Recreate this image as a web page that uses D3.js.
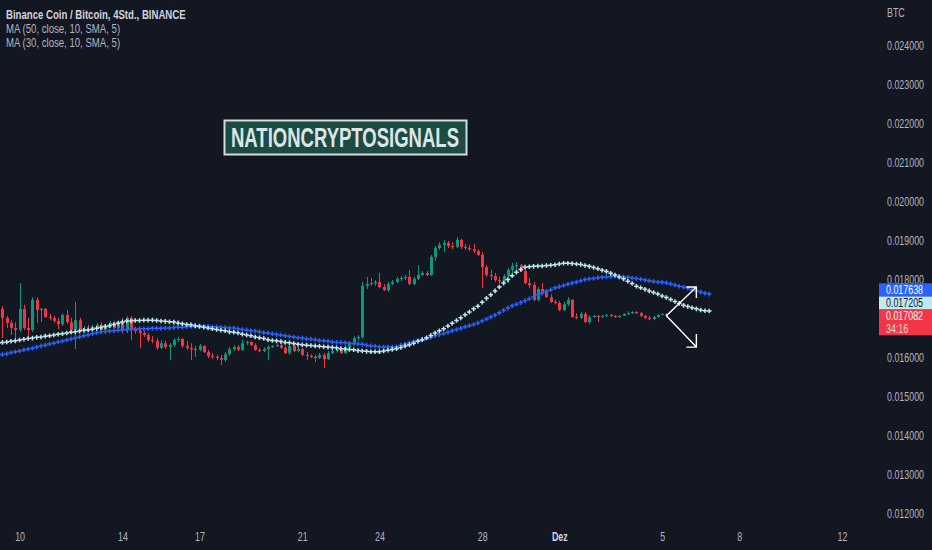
<!DOCTYPE html>
<html>
<head>
<meta charset="utf-8">
<script src="https://cdn.jsdelivr.net/npm/d3@7/dist/d3.min.js"></script>
<style>
html, body { margin: 0; padding: 0; background: #131722; }
svg { display: block; }
</style>
</head>
<body>
<div id="chart"></div>
<script>
// 4h bars, BNB/BTC
var firstBarTime = Date.UTC(2022, 10, 9, 4);
var barHours = 4;
var firstOpen = 0.01736;

var closes = [
    0.01726, 0.01703, 0.01690, 0.01677, 0.01672, 0.01726, 0.01677, 0.01672, 0.01749, 0.01723,
    0.01726, 0.01705, 0.01703, 0.01695, 0.01687, 0.01710, 0.01692, 0.01672, 0.01697, 0.01672,
    0.01674, 0.01672, 0.01679, 0.01685, 0.01672, 0.01682, 0.01690, 0.01677, 0.01692, 0.01672,
    0.01703, 0.01672, 0.01669, 0.01664, 0.01659, 0.01646, 0.01644, 0.01626, 0.01638, 0.01628,
    0.01633, 0.01646, 0.01649, 0.01631, 0.01626, 0.01623, 0.01621, 0.01631, 0.01615, 0.01605,
    0.01603, 0.01600, 0.01595, 0.01610, 0.01623, 0.01628, 0.01621, 0.01638, 0.01641, 0.01633,
    0.01621, 0.01618, 0.01623, 0.01628, 0.01631, 0.01633, 0.01626, 0.01613, 0.01631, 0.01618,
    0.01623, 0.01608, 0.01605, 0.01603, 0.01600, 0.01608, 0.01597, 0.01613, 0.01618, 0.01621,
    0.01613, 0.01628, 0.01638, 0.01651, 0.01654, 0.01785, 0.01790, 0.01792, 0.01795, 0.01782,
    0.01774, 0.01790, 0.01795, 0.01803, 0.01805, 0.01808, 0.01790, 0.01803, 0.01813, 0.01818,
    0.01813, 0.01859, 0.01882, 0.01890, 0.01895, 0.01887, 0.01885, 0.01903, 0.01885, 0.01882,
    0.01879, 0.01874, 0.01864, 0.01833, 0.01813, 0.01810, 0.01800, 0.01797, 0.01810, 0.01826,
    0.01836, 0.01838, 0.01823, 0.01792, 0.01787, 0.01749, 0.01777, 0.01769, 0.01756, 0.01744,
    0.01741, 0.01723, 0.01738, 0.01749, 0.01705, 0.01703, 0.01713, 0.01692, 0.01705, 0.01708,
    0.01705, 0.01708, 0.01710, 0.01708, 0.01705, 0.01708, 0.01713, 0.01715, 0.01718, 0.01715,
    0.01708, 0.01703, 0.01700, 0.01705, 0.01710, 0.01713, 0.017082
];

var highs = [
    0.01749, 0.01733, 0.01708, 0.01697, 0.01692, 0.01792, 0.01736, 0.01703, 0.01756, 0.01756,
    0.01728, 0.01728, 0.01713, 0.01708, 0.01703, 0.01715, 0.01723, 0.01703, 0.01744, 0.01703,
    0.01682, 0.01685, 0.01685, 0.01690, 0.01692, 0.01687, 0.01695, 0.01695, 0.01697, 0.01703,
    0.01708, 0.01708, 0.01679, 0.01674, 0.01669, 0.01664, 0.01656, 0.01651, 0.01646, 0.01644,
    0.01638, 0.01651, 0.01654, 0.01651, 0.01644, 0.01638, 0.01631, 0.01636, 0.01633, 0.01621,
    0.01613, 0.01608, 0.01608, 0.01615, 0.01628, 0.01633, 0.01633, 0.01646, 0.01644, 0.01644,
    0.01638, 0.01626, 0.01628, 0.01633, 0.01633, 0.01636, 0.01636, 0.01631, 0.01633, 0.01636,
    0.01628, 0.01626, 0.01615, 0.01610, 0.01608, 0.01613, 0.01613, 0.01618, 0.01623, 0.01623,
    0.01623, 0.01633, 0.01644, 0.01656, 0.01659, 0.01795, 0.01808, 0.01805, 0.01800, 0.01818,
    0.01790, 0.01795, 0.01800, 0.01808, 0.01810, 0.01813, 0.01826, 0.01808, 0.01838, 0.01823,
    0.01823, 0.01864, 0.01887, 0.01897, 0.01903, 0.01900, 0.01897, 0.01910, 0.01905, 0.01892,
    0.01890, 0.01892, 0.01879, 0.01872, 0.01838, 0.01826, 0.01818, 0.01808, 0.01815, 0.01831,
    0.01844, 0.01846, 0.01841, 0.01831, 0.01805, 0.01795, 0.01782, 0.01792, 0.01777, 0.01764,
    0.01749, 0.01746, 0.01744, 0.01756, 0.01751, 0.01715, 0.01718, 0.01718, 0.01710, 0.01710,
    0.01710, 0.01710, 0.01713, 0.01713, 0.01710, 0.01710, 0.01715, 0.01720, 0.01720, 0.01720,
    0.01718, 0.01710, 0.01708, 0.01708, 0.01713, 0.01715, 0.01715
];

var lows = [
    0.01710, 0.01651, 0.01677, 0.01659, 0.01646, 0.01667, 0.01672, 0.01651, 0.01667, 0.01690,
    0.01692, 0.01703, 0.01697, 0.01690, 0.01674, 0.01682, 0.01687, 0.01667, 0.01623, 0.01667,
    0.01664, 0.01667, 0.01669, 0.01677, 0.01669, 0.01669, 0.01677, 0.01674, 0.01672, 0.01662,
    0.01664, 0.01646, 0.01662, 0.01626, 0.01654, 0.01641, 0.01638, 0.01621, 0.01623, 0.01623,
    0.01595, 0.01628, 0.01641, 0.01626, 0.01621, 0.01595, 0.01603, 0.01618, 0.01613, 0.01600,
    0.01597, 0.01595, 0.01582, 0.01590, 0.01605, 0.01618, 0.01618, 0.01618, 0.01633, 0.01631,
    0.01618, 0.01615, 0.01615, 0.01595, 0.01626, 0.01628, 0.01623, 0.01610, 0.01608, 0.01615,
    0.01615, 0.01605, 0.01595, 0.01600, 0.01590, 0.01597, 0.01574, 0.01595, 0.01610, 0.01613,
    0.01610, 0.01610, 0.01621, 0.01633, 0.01644, 0.01649, 0.01777, 0.01785, 0.01785, 0.01779,
    0.01772, 0.01769, 0.01787, 0.01792, 0.01797, 0.01800, 0.01787, 0.01787, 0.01800, 0.01810,
    0.01810, 0.01810, 0.01849, 0.01877, 0.01872, 0.01882, 0.01879, 0.01882, 0.01879, 0.01877,
    0.01874, 0.01869, 0.01862, 0.01779, 0.01808, 0.01800, 0.01795, 0.01790, 0.01795, 0.01792,
    0.01813, 0.01826, 0.01821, 0.01790, 0.01779, 0.01746, 0.01746, 0.01767, 0.01754, 0.01741,
    0.01738, 0.01720, 0.01720, 0.01733, 0.01703, 0.01700, 0.01700, 0.01690, 0.01687, 0.01703,
    0.01692, 0.01703, 0.01705, 0.01705, 0.01703, 0.01703, 0.01708, 0.01710, 0.01713, 0.01713,
    0.01705, 0.01700, 0.01697, 0.01697, 0.01703, 0.01710, 0.01705
];

// MA (50) and MA (30), shifted 10 bars forward, so 10 points more than the candles
var ma50 = [
    0.01607, 0.01609, 0.01611, 0.01614, 0.01616, 0.01618, 0.01621, 0.01623, 0.01625, 0.01628,
    0.01631, 0.01633, 0.01636, 0.01638, 0.01641, 0.01643, 0.01646, 0.01649, 0.01651, 0.01654,
    0.01657, 0.01659, 0.01662, 0.01665, 0.01667, 0.01668, 0.01669, 0.01670, 0.01671, 0.01672,
    0.01673, 0.01674, 0.01674, 0.01675, 0.01675, 0.01675, 0.01676, 0.01676, 0.01676, 0.01677,
    0.01677, 0.01678, 0.01679, 0.01679, 0.01680, 0.01681, 0.01681, 0.01682, 0.01682, 0.01681,
    0.01680, 0.01680, 0.01679, 0.01678, 0.01677, 0.01677, 0.01675, 0.01673, 0.01672, 0.01670,
    0.01669, 0.01667, 0.01665, 0.01664, 0.01662, 0.01660, 0.01659, 0.01657, 0.01655, 0.01654,
    0.01652, 0.01651, 0.01649, 0.01648, 0.01647, 0.01645, 0.01644, 0.01643, 0.01641, 0.01640,
    0.01640, 0.01639, 0.01638, 0.01637, 0.01636, 0.01635, 0.01633, 0.01631, 0.01630, 0.01628,
    0.01628, 0.01628, 0.01628, 0.01629, 0.01633, 0.01636, 0.01639, 0.01642, 0.01645, 0.01647,
    0.01650, 0.01653, 0.01657, 0.01660, 0.01663, 0.01666, 0.01670, 0.01673, 0.01676, 0.01680,
    0.01683, 0.01686, 0.01690, 0.01695, 0.01700, 0.01705, 0.01710, 0.01716, 0.01722, 0.01728,
    0.01734, 0.01738, 0.01742, 0.01747, 0.01752, 0.01757, 0.01762, 0.01766, 0.01771, 0.01775,
    0.01780, 0.01783, 0.01786, 0.01789, 0.01792, 0.01795, 0.01798, 0.01801, 0.01803, 0.01804,
    0.01806, 0.01807, 0.01808, 0.01809, 0.01810, 0.01809, 0.01808, 0.01807, 0.01805, 0.01804,
    0.01802, 0.01800, 0.01798, 0.01796, 0.01795, 0.01794, 0.01793, 0.01790, 0.01787, 0.01784,
    0.01782, 0.01779, 0.01775, 0.01772, 0.01769, 0.01766, 0.017638
];

var ma30 = [
    0.01638, 0.01640, 0.01641, 0.01643, 0.01644, 0.01646, 0.01648, 0.01650, 0.01651, 0.01653,
    0.01654, 0.01656, 0.01657, 0.01659, 0.01661, 0.01662, 0.01664, 0.01666, 0.01667, 0.01669,
    0.01671, 0.01672, 0.01674, 0.01676, 0.01678, 0.01681, 0.01683, 0.01686, 0.01689, 0.01692,
    0.01695, 0.01695, 0.01696, 0.01696, 0.01697, 0.01697, 0.01697, 0.01696, 0.01695, 0.01694,
    0.01693, 0.01692, 0.01690, 0.01688, 0.01686, 0.01685, 0.01683, 0.01681, 0.01679, 0.01677,
    0.01675, 0.01673, 0.01671, 0.01670, 0.01667, 0.01666, 0.01664, 0.01661, 0.01659, 0.01657,
    0.01654, 0.01652, 0.01650, 0.01647, 0.01645, 0.01644, 0.01642, 0.01640, 0.01639, 0.01637,
    0.01635, 0.01634, 0.01633, 0.01632, 0.01631, 0.01630, 0.01629, 0.01628, 0.01627, 0.01626,
    0.01624, 0.01623, 0.01622, 0.01621, 0.01619, 0.01618, 0.01617, 0.01616, 0.01616, 0.01616,
    0.01618, 0.01620, 0.01622, 0.01624, 0.01627, 0.01631, 0.01634, 0.01638, 0.01643, 0.01647,
    0.01652, 0.01658, 0.01664, 0.01670, 0.01675, 0.01682, 0.01689, 0.01696, 0.01703, 0.01711,
    0.01718, 0.01726, 0.01733, 0.01743, 0.01753, 0.01762, 0.01772, 0.01782, 0.01792, 0.01801,
    0.01811, 0.01820, 0.01827, 0.01833, 0.01834, 0.01835, 0.01836, 0.01836, 0.01837, 0.01838,
    0.01839, 0.01841, 0.01843, 0.01843, 0.01842, 0.01841, 0.01840, 0.01837, 0.01835, 0.01832,
    0.01829, 0.01825, 0.01822, 0.01817, 0.01813, 0.01808, 0.01803, 0.01797, 0.01791, 0.01784,
    0.01780, 0.01776, 0.01772, 0.01768, 0.01764, 0.01759, 0.01755, 0.01750, 0.01745, 0.01740,
    0.01735, 0.01732, 0.01729, 0.01726, 0.01723, 0.01721, 0.017205
];

var yTicks = [0.012, 0.013, 0.014, 0.015, 0.016, 0.017, 0.018, 0.019, 0.020, 0.021, 0.022, 0.023, 0.024];
var xTickDates = [
    Date.UTC(2022, 10, 10), Date.UTC(2022, 10, 14), Date.UTC(2022, 10, 17), Date.UTC(2022, 10, 21),
    Date.UTC(2022, 10, 24), Date.UTC(2022, 10, 28), Date.UTC(2022, 11, 1), Date.UTC(2022, 11, 5),
    Date.UTC(2022, 11, 8), Date.UTC(2022, 11, 12)
];
var xTickLabels = ['10', '14', '17', '21', '24', '28', 'Dez', '5', '8', '12'];
var legendLines = ['Binance Coin / Bitcoin, 4Std., BINANCE', 'MA (50, close, 10, SMA, 5)', 'MA (30, close, 10, SMA, 5)'];
var currencyLabel = 'BTC';
var watermarkText = 'NATIONCRYPTOSIGNALS';
var countdownText = '34:16';
// hand drawn arrows: from the last candle to these bar / price points
var arrowBars = [163, 163];
var arrowPrices = [0.01782, 0.01628];

var COLORS = {
    bg: '#131722',
    up: '#089981',
    down: '#f23645',
    ma50: '#2962ff',
    ma30: '#bfe9ec',
    text: '#b2b5be',
    legend: '#d1d4dc'
};
var SQUEEZE = 0.74;
var FONT = 'Liberation Sans, Arial, sans-serif';

var BnbChart = (function () {
    function BnbChart(width, height) {
        this.width = width;
        this.height = height;
        this.plotRight = 878;
        this.svg = d3.select('#chart').append('svg')
            .attr('xmlns', 'http://www.w3.org/2000/svg')
            .attr('width', width)
            .attr('height', height);
        this.x = d3.scaleUtc()
            .domain([new Date(xTickDates[0]), new Date(xTickDates[xTickDates.length - 1])])
            .range([19.6, 842]);
        this.y = d3.scaleLinear()
            .domain([yTicks[0], yTicks[yTicks.length - 1]])
            .range([514, 46]);
        this.svg.append('rect')
            .attr('width', width).attr('height', height)
            .attr('fill', COLORS.bg);
        this.svg.append('clipPath').attr('id', 'plot-clip')
            .append('rect').attr('width', this.plotRight).attr('height', height);
    }
    BnbChart.prototype.barDate = function (i) {
        return new Date(firstBarTime + i * barHours * 3600 * 1000);
    };
    BnbChart.prototype.drawWatermark = function () {
        var g = this.svg.append('g');
        g.append('rect')
            .attr('x', 224.5).attr('y', 120.5)
            .attr('width', 242).attr('height', 34)
            .attr('fill', '#1d4a43')
            .attr('stroke', '#d3dde0')
            .attr('stroke-width', 2);
        g.append('text')
            .attr('x', 231).attr('y', 147)
            .attr('textLength', 228)
            .attr('lengthAdjust', 'spacingAndGlyphs')
            .attr('font-family', FONT)
            .attr('font-weight', 'bold')
            .attr('font-size', 27)
            .attr('fill', '#dce5e8')
            .text(watermarkText);
    };
    BnbChart.prototype.drawCandles = function () {
        var self = this;
        var bars = closes.map(function (c, i) {
            return { t: self.barDate(i), o: i === 0 ? firstOpen : closes[i - 1], h: highs[i], l: lows[i], c: c };
        });
        var g = this.svg.append('g').attr('clip-path', 'url(#plot-clip)');
        var candle = g.selectAll('g.candle').data(bars).enter().append('g')
            .attr('class', 'candle');
        candle.append('line')
            .attr('x1', function (d) { return Math.round(self.x(d.t)) + 0.5; })
            .attr('x2', function (d) { return Math.round(self.x(d.t)) + 0.5; })
            .attr('y1', function (d) { return self.y(d.h); })
            .attr('y2', function (d) { return self.y(d.l); })
            .attr('stroke', function (d) { return d.c >= d.o ? COLORS.up : COLORS.down; })
            .attr('stroke-width', 1);
        candle.append('rect')
            .attr('x', function (d) { return Math.round(self.x(d.t)) - 1; })
            .attr('width', 3)
            .attr('y', function (d) { return self.y(Math.max(d.o, d.c)); })
            .attr('height', function (d) { return Math.max(1, Math.abs(self.y(d.o) - self.y(d.c))); })
            .attr('fill', function (d) { return d.c >= d.o ? COLORS.up : COLORS.down; });
    };
    BnbChart.prototype.drawCrosses = function (values, color) {
        var self = this;
        var r = 2.3;
        var d = values.map(function (v, i) {
            var px = self.x(self.barDate(i)), py = self.y(v);
            return 'M' + (px - r) + ',' + py + 'H' + (px + r) + 'M' + px + ',' + (py - r) + 'V' + (py + r);
        }).join('');
        this.svg.append('g').attr('clip-path', 'url(#plot-clip)')
            .append('path')
            .attr('d', d)
            .attr('fill', 'none')
            .attr('stroke', color)
            .attr('stroke-width', 1.5);
    };
    BnbChart.prototype.drawArrows = function () {
        var self = this;
        var last = closes.length - 1;
        var sx = this.x(this.barDate(last)), sy = this.y(closes[last]);
        var g = this.svg.append('g')
            .attr('fill', 'none').attr('stroke', '#ffffff').attr('stroke-width', 1.4);
        arrowBars.forEach(function (b, k) {
            var tx = self.x(self.barDate(b)), ty = self.y(arrowPrices[k]);
            var back = ty < sy ? 11 : -13;
            g.append('path')
                .attr('d', 'M' + sx + ',' + sy + 'L' + tx + ',' + ty +
                    'M' + (tx - 10) + ',' + ty + 'H' + tx + 'V' + (ty + back));
        });
    };
    BnbChart.prototype.squeezeText = function (sel) {
        sel.attr('transform', 'scale(' + SQUEEZE + ',1)');
    };
    BnbChart.prototype.drawAxes = function () {
        var self = this;
        var yAxis = d3.axisRight(this.y)
            .tickValues(yTicks)
            .tickFormat(d3.format('.6f'))
            .tickSize(0)
            .tickPadding(0);
        this.gy = this.svg.append('g')
            .attr('transform', 'translate(887,0)')
            .call(yAxis);
        var gx = this.svg.append('g')
            .attr('transform', 'translate(0,532)')
            .call(d3.axisBottom(this.x)
                .tickValues(xTickDates.map(function (t) { return new Date(t); }))
                .tickFormat(function (d, i) { return xTickLabels[i]; })
                .tickSize(0)
                .tickPadding(0));
        [gx, this.gy].forEach(function (g) {
            g.select('.domain').remove();
            g.selectAll('text')
                .attr('fill', COLORS.text)
                .attr('font-family', FONT)
                .attr('font-size', 12)
                .call(self.squeezeText);
        });
        gx.selectAll('text')
            .filter(function (d, i) { return xTickLabels[i] === 'Dez'; })
            .attr('fill', COLORS.legend)
            .attr('font-weight', 'bold');
        this.svg.append('text')
            .attr('transform', 'translate(887,17) scale(' + SQUEEZE + ',1)')
            .attr('font-family', FONT)
            .attr('font-size', 12)
            .attr('fill', COLORS.text)
            .text(currencyLabel);
    };
    BnbChart.prototype.drawPriceLabels = function () {
        var self = this;
        var last = closes.length - 1;
        var labels = [
            { v: ma50[ma50.length - 1], bg: COLORS.ma50, fg: '#ffffff', rows: 1 },
            { v: ma30[ma30.length - 1], bg: COLORS.ma30, fg: '#131722', rows: 1 },
            { v: closes[last], bg: COLORS.down, fg: '#ffffff', rows: 2 }
        ];
        labels.sort(function (a, b) { return self.y(b.v) - self.y(a.v); });
        var rowH = 13, prevTop = Infinity, bottom = null;
        var fmt = d3.format('.6f');
        labels.forEach(function (lb) {
            var h = rowH * lb.rows;
            var top = Math.min(self.y(lb.v) - rowH / 2, prevTop - h);
            if (bottom === null) { bottom = top + h; }
            prevTop = top;
            var g = self.svg.append('g').attr('transform', 'translate(879,' + top + ')');
            g.append('rect').attr('width', 53).attr('height', h).attr('fill', lb.bg);
            g.append('text')
                .attr('transform', 'translate(7,10.5) scale(' + SQUEEZE + ',1)')
                .attr('font-family', FONT)
                .attr('font-size', 12)
                .attr('fill', lb.fg)
                .text(fmt(lb.v));
            if (lb.rows === 2) {
                g.append('text')
                    .attr('transform', 'translate(7,23.5) scale(' + SQUEEZE + ',1)')
                    .attr('font-family', FONT)
                    .attr('font-size', 12)
                    .attr('fill', '#fbd5d8')
                    .text(countdownText);
            }
        });
        // axis prices that sit under the label stack are hidden, as on the reference
        var stackTop = prevTop, stackBottom = bottom;
        this.gy.selectAll('.tick')
            .filter(function (d) { var ty = self.y(d); return ty > stackTop && ty < stackBottom; })
            .remove();
    };
    BnbChart.prototype.drawLegend = function () {
        this.svg.append('g').selectAll('text').data(legendLines).enter().append('text')
            .attr('transform', function (d, i) { return 'translate(6,' + (19 + i * 14) + ') scale(0.8,1)'; })
            .attr('font-family', FONT)
            .attr('font-size', 12)
            .attr('font-weight', function (d, i) { return i === 0 ? 'bold' : 'normal'; })
            .attr('fill', function (d, i) { return i === 0 ? COLORS.legend : COLORS.text; })
            .text(function (d) { return d; });
    };
    BnbChart.prototype.render = function () {
        this.drawWatermark();
        this.drawCandles();
        this.drawCrosses(ma50, COLORS.ma50);
        this.drawCrosses(ma30, COLORS.ma30);
        this.drawArrows();
        this.drawAxes();
        this.drawPriceLabels();
        this.drawLegend();
    };
    return BnbChart;
}());

new BnbChart(932, 550).render();
</script>
</body>
</html>
